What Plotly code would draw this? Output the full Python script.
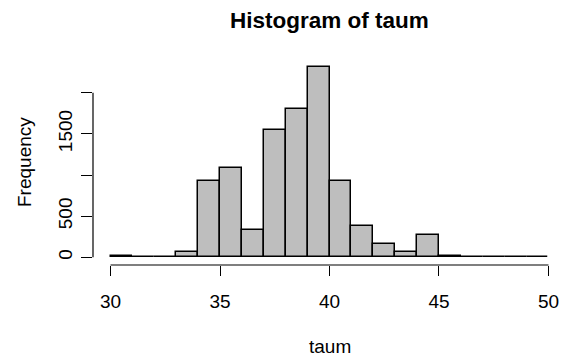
import plotly.graph_objects as go

# data: histogram of taum, bins of width 1 from 30 to 50
bin_edges = list(range(30, 51))
counts = [15, 3, 10, 68, 924, 1081, 332, 1543, 1806, 2316,
          924, 380, 158, 68, 267, 20, 3, 2, 2, 2]
x_ticks = [30, 35, 40, 45, 50]
y_ticks = [0, 500, 1000, 1500, 2000]
y_ticktext = ["0", "500", "", "1500", ""]

centers = [(a + b) / 2 for a, b in zip(bin_edges[:-1], bin_edges[1:])]
widths = [b - a for a, b in zip(bin_edges[:-1], bin_edges[1:])]

FONT = "Liberation Sans, Arial, Helvetica, sans-serif"

fig = go.Figure(go.Bar(
    x=centers, y=counts, width=widths,
    marker=dict(color="#BEBEBE", line=dict(color="black", width=1.5)),
    hoverinfo="x+y",
))

xmin, xmax = bin_edges[0], bin_edges[-1]
ymax = max(counts)
xpad = 0.04 * (xmax - xmin)
ypad = 0.04 * ymax

fig.update_layout(
    width=572, height=363,
    margin=dict(l=93, r=6, t=59, b=98),
    plot_bgcolor="white", paper_bgcolor="white",
    font=dict(family=FONT, size=19, color="black"),
    showlegend=False,
    bargap=0,
    xaxis=dict(
        range=[xmin - xpad, xmax + xpad],
        tickvals=x_ticks, ticktext=[str(v) for v in x_ticks],
        ticks="outside", ticklen=10, tickwidth=1.2, tickcolor="black",
        showline=False, showgrid=False, zeroline=False,
        ticklabelstandoff=9,
        tickfont=dict(size=19),
    ),
    yaxis=dict(
        range=[-ypad, ymax + ypad],
        tickvals=y_ticks, ticktext=y_ticktext,
        ticks="outside", ticklen=11, tickwidth=1.2, tickcolor="black",
        showline=False, showgrid=False, zeroline=False,
        tickangle=-90, ticklabelstandoff=1,
        tickfont=dict(size=19),
    ),
    shapes=[
        dict(type="line", xref="x", yref="paper", x0=x_ticks[0], x1=x_ticks[-1],
             y0=0, y1=0, line=dict(color="black", width=1.2)),
        dict(type="line", xref="paper", yref="y", x0=0, x1=0,
             y0=y_ticks[0], y1=y_ticks[-1], line=dict(color="black", width=1.2)),
    ],
    annotations=[
        dict(text="<b>Histogram of taum</b>", xref="paper", yref="paper",
             x=0.5, y=1 + (59 - 20) / 206, xanchor="center", yanchor="middle",
             showarrow=False, font=dict(size=22.5)),
        dict(text="taum", xref="paper", yref="paper",
             x=0.5, y=-(346 - 265) / 206, xanchor="center", yanchor="middle",
             showarrow=False, font=dict(size=19)),
        dict(text="Frequency", xref="paper", yref="paper",
             x=-(93 - 24) / 473, y=0.5, xanchor="center", yanchor="middle",
             textangle=-90, showarrow=False, font=dict(size=19)),
    ],
)

fig.write_html("out.html")
